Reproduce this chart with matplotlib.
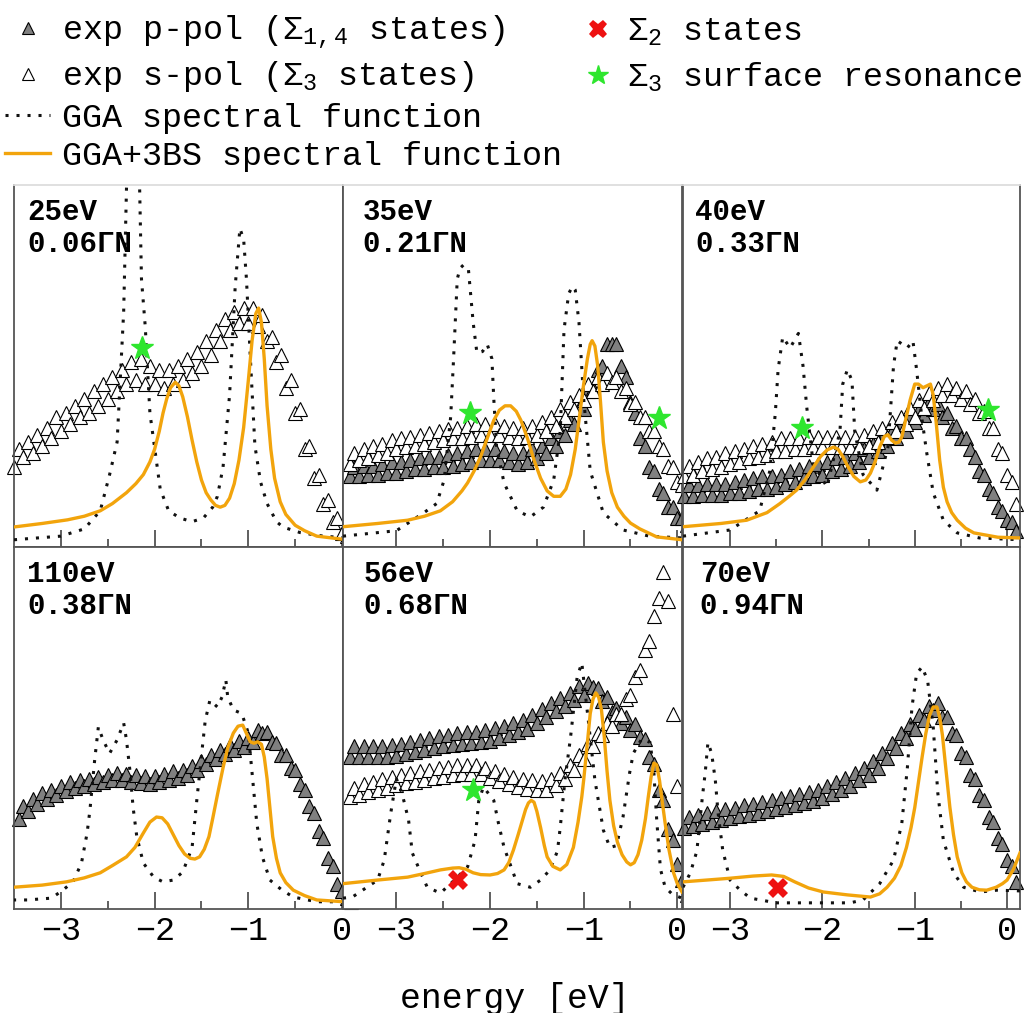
import numpy as np
import matplotlib
matplotlib.use("Agg")
import matplotlib.pyplot as plt
from matplotlib.lines import Line2D

plt.rcParams['font.family'] = ['Liberation Mono', 'DejaVu Sans']
plt.rcParams['mathtext.fontset'] = 'custom'
plt.rcParams['mathtext.rm'] = 'Liberation Mono'
plt.rcParams['mathtext.it'] = 'Liberation Mono'
plt.rcParams['mathtext.bf'] = 'Liberation Mono:bold'

# ---------------- data ----------------
photon_energy = ["25eV", "35eV", "40eV", "110eV", "56eV", "70eV"]
k_position = ["0.06ΓN", "0.21ΓN", "0.33ΓN", "0.38ΓN", "0.68ΓN", "0.94ΓN"]
tick_values = [-3, -2, -1, 0]
tick_labels = ["\u22123", "\u22122", "\u22121", "0"]

# experimental grid (eV), -3.50 ... 0.10 in 0.05 steps
exp_energy = np.linspace(-3.5, 0.1, 73)

nan = np.nan
# s-pol (open triangles), p-pol (grey triangles): intensity in % of panel height
s_25 = [22,27,25,29,26,31,28,33,30,36, 32,37,34,39,36,41,37,43,39,45,
        41,47,43,49,45,51,46,52,45,50, 45,49,44,49,45,50,46,52,48,54,
        50,57,53,60,57,63,60,65,62,66, 62,66,61,64,57,58,51,53,44,46,
        37,38,27,28,19,20,12,13,7,8, 4,3,2]
s_35 = [23,26,24,27,24.5,28,25.5,28.5,26,29.5, 27,30,27.5,30.5,28,31,28.5,31.5,29,32,
        29.5,32.5,30,33,30,33.5,30.5,34,31,34, 31,34,31,33.5,30.5,33,30,33,30.5,33.5,
        31,34.5,32,36,33.5,38,36,40,38,42, 40.5,45,43,47,45,48,45.5,47,43,44,
        39.5,40,36,36,32,32,28,27,22.5,22, 18,17,14]
p_35 = [19.5,22,19.5,22.5,20,22.5,20,23,20.5,23.5, 20.5,23.5,21,24,21.5,24.5,21.5,25,22,25,
        22,25.5,22.5,26,23,26.5,23.5,27,24,27, 24,27,24,26.5,23.5,26,23,26,23.5,27,
        24.5,28,26,30,28,32,31,35,34,38.5, 38,43,44,49,50,56,56,56,50,47,
        40,37,30,28,22,21,16,15,11,11, 8,8,6]
s_40 = [19.5,22.5,20,23.5,21,24.5,21.5,25,22,26, 23,26.5,23.5,27,24.5,28,25,28.5,25.5,29,
        26.5,30,26.5,30,27,30,27,30.5,27.5,30.5, 27.5,30.5,27.5,30.5,27.5,30.5,27.5,30.5,27.5,31,
        28,32,29,33,30.5,34.5,32,36,34,38.5, 36,40.5,38.5,42.5,40.5,44,42,45,42,44,
        41,43,39.5,41,37,37.5,33,33,27,26, 20,18,12]
p_40 = [14,17,14,17,14.5,17.5,14.5,17.5,14.5,17.5, 15,18,15,18.5,15.5,19,16,19.5,16,19.5,
        16.5,20,17.5,21,18,21.5,19,22.5,19.5,23, 20,23.5,21,24.5,21.5,25,22.5,26,23.5,27,
        25,28.5,26.5,30,28,32,30,34,32,36, 34.5,38,36.5,40,38,39.5,36,37,33,33.5,
        30,30,27,25,21,20,16,15,11,10, 7.5,7,4.5]
p_110 = [nan,25,28.5,27,30.5,29,32,30.5,33,31.5, 34,32.5,35,33.5,35.5,34,36,34.5,36.5,35,
         37,35.5,37.5,35.5,37.3,35,37,34.7,36.7,34.5, 36.8,35,37.3,35.5,38,36.3,38.5,37,39.5,38.5,
         41,40,42.5,41.5,44,42.7,45.3,43.8,46.3,44.8, 47.3,46,49.5,48.5,49,46,45.8,42.5,42.5,39,
         38.5,34.5,33,28.5,26.5,21.5,19.5,14,12,7, 5,3,2]
p_56 = [42,45,42,45,42,45,42,45,42,45.2, 42.3,45.6,42.8,46,43.3,46.7,43.9,47.2,44.5,47.8,
        45,48.2,45.3,48.5,45.6,48.8,45.9,49,46.2,49.4, 46.5,50,47.2,50.6,48,51.4,48.8,52.3,49.8,53.5,
        51.3,55.2,53,56.8,54.6,58.3,56,59.8,57.7,61.5, 59.2,62.5,61.3,61,57.5,58.5,54.5,55.5,51.5,53,
        49.5,51,47.5,47,42,40,33,30,22,19, 12.5,8,4]
s_56 = [31,33.5,31.5,34.5,32.2,35,32.8,35.8,33.5,36.5, 34.2,37,34.7,37.5,35.2,38,35.7,38.5,36.2,38.9,
        36.6,39.3,37,39.7,37.3,39.9,37.4,39.8,37.2,39, 36.2,38.2,35.3,37.3,34.4,36.5,33.8,35.9,33.2,35.5,
        32.8,35.3,33,36,34.2,37.5,36,39.8,38.5,42.5, 41.5,45.5,45,48.5,48,51.5,50.5,54,54,58,
        59,64,66,71.5,74,81,86,93,85,54, 34,nan,nan]
p_70 = [22.5,25.5,23,26,23.6,26.6,24.1,27,24.6,27.6, 25.1,28,25.6,28.6,26.1,29.1,26.6,29.6,27.2,30.2,
        27.7,30.7,28.2,31.2,28.8,31.8,29.3,32.3,29.8,33, 30.8,34,31.8,35,32.8,36.1,34,37.5,35.5,39,
        37.1,40.8,39,43,41.6,45.8,44.5,48.5,47.1,51, 49.6,53.5,52.1,56,55,57,53,53,48.5,48,
        43,42,37,36,31.5,30,25.5,24,19.5,18, 13.5,12,7.5]

# GGA spectral function (dotted)
gga_e_25 = [-3.50,-3.0,-2.75,-2.58,-2.48,-2.40,-2.33,-2.30,-2.26,-2.22,-2.18,-2.14,-2.10,-2.05,-1.94,-1.85,-1.73,
            -1.60,-1.48,-1.38,-1.33,-1.27,-1.20,-1.14,-1.09,-1.05,-1.02,-0.98,-0.93,-0.87,-0.80,-0.70,-0.63,-0.45,-0.2,0.05]
gga_y_25 = [2,3,5,10,20,29,65,99,125,135,125,74,61,37,16,10,8,7,8,11,14,22,42,72,88,85,74,53,28,18,12,7,5.5,4,3,2.5]
gga_e_35 = [-3.57,-3.0,-2.71,-2.57,-2.49,-2.42,-2.39,-2.35,-2.32,-2.28,-2.23,-2.18,-2.14,-2.08,-2.03,-1.98,-1.96,-1.93,
            -1.85,-1.71,-1.57,-1.43,-1.32,-1.25,-1.21,-1.16,-1.12,-1.09,-1.05,-1.00,-0.93,-0.79,-0.58,-0.3,0.05]
gga_y_35 = [3,4.5,9.4,12,18.5,36,51.6,74,77,78,76.5,62,53.6,54,56,52,41,27.6,17.7,10,8.3,11,18.5,32,60,70,72,71,62,41,21,9.4,4.7,3,2.5]
gga_e_40 = [-3.51,-3.0,-2.68,-2.57,-2.51,-2.48,-2.43,-2.35,-2.26,-2.21,-2.17,-2.10,-1.95,-1.81,-1.78,-1.73,-1.68,-1.65,
            -1.56,-1.41,-1.29,-1.23,-1.19,-1.08,-1.02,-0.98,-0.92,-0.87,-0.80,-0.69,-0.54,-0.3,0.14]
gga_y_40 = [3,4.7,10,21,37,49,58,55,59,50,38.7,23,16.6,32,45,49,46,32,20,15.7,27.6,50,57,55,57,49,35,26,15,7.4,3.9,2.5,2]
gga_e_110 = [-3.51,-3.36,-3.10,-2.98,-2.87,-2.78,-2.72,-2.69,-2.64,-2.60,-2.55,-2.48,-2.40,-2.33,-2.30,-2.26,-2.23,-2.19,
             -2.12,-2.01,-1.91,-1.80,-1.70,-1.60,-1.55,-1.49,-1.46,-1.41,-1.33,-1.28,-1.24,-1.22,-1.16,-1.07,-1.00,-0.95,
             -0.91,-0.85,-0.77,-0.64,-0.52,-0.27,0.01]
gga_y_110 = [2.5,2.5,3,5.2,7.5,12.7,21,27.3,41,50.3,46.7,43,46.7,51.4,46.7,37.5,28.2,20,12.7,8.8,7.5,8,10.2,17,30,
             44.8,52,57.7,55.8,58.6,63.3,58.6,55,54,48.6,34.8,23.7,14.4,8,5.2,3.3,2,2]
gga_e_56 = [-3.57,-3.47,-3.20,-3.13,-3.06,-3.00,-2.94,-2.87,-2.83,-2.74,-2.67,-2.53,-2.42,-2.24,-2.16,-2.12,-2.07,-1.96,
            -1.91,-1.85,-1.71,-1.57,-1.46,-1.36,-1.28,-1.25,-1.20,-1.14,-1.07,-1.02,-0.95,-0.88,-0.79,-0.72,-0.65,-0.58,
            -0.51,-0.47,-0.38,-0.29,-0.25,-0.22,-0.18,-0.13,-0.05,0.05]
gga_y_56 = [3,3.3,8,13.5,26.5,36,32,24.6,15.5,10,6,4.4,7,11.6,19,30,33.7,30,23.7,17,7,6,8,10.8,16,22.6,35.6,47.5,
            64,68,52,35.6,21.8,17,17.5,25.4,37.5,43,47,46,37.5,24.6,11,6,4,3]
gga_e_70 = [-3.51,-3.43,-3.36,-3.30,-3.27,-3.24,-3.20,-3.16,-3.13,-3.08,-3.00,-2.89,-2.78,-2.5,-1.7,-1.56,-1.38,-1.23,
            -1.14,-1.08,-1.03,-0.98,-0.92,-0.86,-0.80,-0.75,-0.69,-0.58,-0.47,-0.29,-0.11,0.14]
gga_y_70 = [6,10,16,31,37.5,46,43,35.6,26.5,16.3,8,5.2,3,1.7,1.7,2.5,7,13.5,23.7,39,55.8,65,66.9,63,50.3,32,19,10,6,4.7,5.2,5]

# GGA+3BS spectral function (orange)
bs_e_25 = [-3.51,-3.2,-2.93,-2.75,-2.58,-2.45,-2.30,-2.20,-2.12,-2.05,-2.00,-1.95,-1.91,-1.87,-1.83,-1.78,-1.74,-1.70,
           -1.65,-1.60,-1.55,-1.50,-1.45,-1.40,-1.35,-1.30,-1.25,-1.20,-1.15,-1.10,-1.05,-1.00,-0.96,-0.92,-0.89,-0.86,
           -0.83,-0.80,-0.76,-0.72,-0.66,-0.60,-0.50,-0.40,-0.27,0.05]
bs_y_25 = [5.5,6.5,7.5,8.5,10,12,15,17.5,20,23.5,27,32,37,41,44,45.5,44.5,41.5,36,29.5,23.5,18.5,15,13,11.5,11,11.5,
           13.5,17.5,24,33,46,57,64.5,66,62,52,39,27,19,12.5,9,6,4.5,3,2]
bs_e_35 = [-3.57,-3.2,-2.88,-2.7,-2.53,-2.40,-2.30,-2.24,-2.17,-2.10,-2.03,-1.96,-1.90,-1.84,-1.78,-1.72,-1.67,-1.60,
           -1.53,-1.46,-1.39,-1.32,-1.25,-1.19,-1.14,-1.09,-1.04,-1.00,-0.96,-0.93,-0.91,-0.88,-0.85,-0.82,-0.79,-0.75,
           -0.70,-0.64,-0.57,-0.50,-0.40,-0.22,0.05]
bs_y_35 = [5.6,6.5,7.4,8.5,10,12.5,15.5,17.7,21,25,30,35,37.8,39,39,37.5,35,30,24,19,15.5,14,14,16,20,27,37,45,52,56,
           57,55.5,50,40,29,21,15,11,8.5,6.6,5,2.8,2]
bs_e_40 = [-3.51,-3.1,-2.82,-2.60,-2.46,-2.36,-2.28,-2.19,-2.10,-2.02,-1.95,-1.88,-1.83,-1.78,-1.73,-1.66,-1.59,-1.53,
           -1.48,-1.43,-1.38,-1.33,-1.29,-1.25,-1.21,-1.17,-1.14,-1.10,-1.05,-1.00,-0.96,-0.91,-0.87,-0.83,-0.80,-0.77,
           -0.73,-0.69,-0.65,-0.60,-0.54,-0.45,-0.36,-0.1,0.14]
bs_y_40 = [5.6,6.5,7.4,9.5,12,14,15.7,18.5,22,25,26.8,27.6,27,25,22.5,19.5,18,18.5,20.4,23.5,27.6,30.5,31,29.5,28.7,
           29,30.4,35,40.6,45,45,44,44.5,45,42,35,24,16.5,12.5,9.5,7.4,5.2,3.9,2.7,2.5]
bs_e_110 = [-3.51,-3.2,-2.94,-2.75,-2.58,-2.45,-2.30,-2.21,-2.12,-2.05,-1.98,-1.92,-1.86,-1.80,-1.74,-1.68,-1.62,-1.57,
            -1.52,-1.47,-1.42,-1.38,-1.33,-1.27,-1.22,-1.16,-1.11,-1.06,-1.02,-0.98,-0.94,-0.90,-0.86,-0.83,-0.80,-0.77,
            -0.74,-0.70,-0.66,-0.60,-0.52,-0.40,-0.27,0.02]
bs_y_110 = [6,6.6,7.5,8.6,10,12,14.4,17,21,24,25.4,25.2,23.5,20.5,17.5,15.2,14,13.8,14.4,16.5,20,25,31.5,39,44.5,
            48.6,50.5,50.8,48.5,46.2,45.8,46.2,45.5,42,36,28,20,14,10,7.3,5.2,3.7,2.5,2]
bs_e_56 = [-3.57,-3.2,-2.88,-2.70,-2.53,-2.40,-2.33,-2.26,-2.18,-2.10,-2.00,-1.92,-1.85,-1.80,-1.75,-1.70,-1.66,-1.62,
           -1.59,-1.56,-1.53,-1.50,-1.46,-1.42,-1.39,-1.33,-1.25,-1.18,-1.11,-1.06,-1.02,-1.00,-0.96,-0.93,-0.90,-0.87,
           -0.84,-0.81,-0.78,-0.75,-0.72,-0.68,-0.64,-0.59,-0.54,-0.50,-0.46,-0.42,-0.38,-0.34,-0.31,-0.28,-0.25,-0.22,
           -0.19,-0.16,-0.13,-0.09,-0.04,0.0,0.05]
bs_y_56 = [7,8,8.8,9.8,10.8,11.3,11.4,11,10,9.5,9.4,9.8,10.8,12.8,16.3,20.5,24,27.5,29.3,30,29.5,27,22.5,17.5,14.4,
           11.8,10.8,12.3,17,24,31,35.6,46,54,58,59.7,58.5,55,47.5,38,30,23,18.5,15,13,12.2,12.8,15,19,25,31,36.5,
           40.3,39.8,35.5,29.5,23.7,16.5,10,7,4.7]
bs_e_70 = [-3.51,-3.2,-3.0,-2.75,-2.55,-2.42,-2.30,-2.15,-1.99,-1.73,-1.48,-1.38,-1.30,-1.22,-1.15,-1.09,-1.04,-1.00,
           -0.96,-0.92,-0.88,-0.84,-0.80,-0.76,-0.73,-0.70,-0.66,-0.62,-0.58,-0.54,-0.49,-0.44,-0.38,-0.30,-0.22,-0.12,
           -0.05,0.0,0.07,0.14]
bs_y_70 = [7.5,8.1,8.5,9.1,9.4,9.0,7.5,5.8,4.7,3.9,3.3,4.2,6,8.5,12,17,22.5,28,35,42,48.5,53.5,55.8,55.8,53,48,38,
           28.2,20.5,14.4,10,7.5,6,5.3,5.2,6,7,8,11,15.5]

# special markers: (energy, intensity)
star_e = [[-2.13], [-2.21, -0.20], [-2.22, -0.21], [], [-2.18], []]
star_y = [[55], [37, 35.6], [33, 37.8], [], [32.9], []]
cross_e = [[], [], [], [], [-2.34], [-2.48]]
cross_y = [[], [], [], [], [8], [5.8]]

s_series = [s_25, s_35, s_40, None, s_56, None]
p_series = [None, p_35, p_40, p_110, p_56, p_70]
gga_e = [gga_e_25, gga_e_35, gga_e_40, gga_e_110, gga_e_56, gga_e_70]
gga_y = [gga_y_25, gga_y_35, gga_y_40, gga_y_110, gga_y_56, gga_y_70]
bs_e = [bs_e_25, bs_e_35, bs_e_40, bs_e_110, bs_e_56, bs_e_70]
bs_y = [bs_y_25, bs_y_35, bs_y_40, bs_y_110, bs_y_56, bs_y_70]

# ---------------- styles / layout ----------------
W, H = 1026, 1013
fig = plt.figure(figsize=(W / 100, H / 100), dpi=100)

col_px = [(14, 343), (343, 682), (683, 1020)]
col_xlim = [(-3.50, 0.01), (-3.57, 0.05), (-3.51, 0.14)]
row_px = [(185, 547), (547, 909)]
label_dx = [0.04, 0.057, 0.036, 0.04, 0.06, 0.05]

ORANGE = '#F2A40C'
GREY = '#808080'
GREEN = '#2EE62E'
RED = '#EE1111'
SPINE = '#555555'
DOTS = (0, (1, 2.6))

for i in range(6):
    r, c = divmod(i, 3)
    x0, x1 = col_px[c]
    y0, y1 = row_px[r]
    ax = fig.add_axes([x0 / W, 1 - y1 / H, (x1 - x0) / W, (y1 - y0) / H])
    ax.set_xlim(*col_xlim[c])
    ax.set_ylim(0, 100)

    if p_series[i] is not None:
        ax.plot(exp_energy, p_series[i], linestyle='none', marker='^', markersize=9.8,
                markerfacecolor=GREY, markeredgecolor='black', markeredgewidth=0.8,
                zorder=2, clip_on=False)
    if s_series[i] is not None:
        ax.plot(exp_energy, s_series[i], linestyle='none', marker='^', markersize=9.8,
                markerfacecolor='white', markeredgecolor='black', markeredgewidth=0.8,
                zorder=2.1, clip_on=False)

    ax.plot(gga_e[i], gga_y[i], color='#111111', linewidth=2.2, linestyle=DOTS, zorder=3)
    ax.plot(bs_e[i], bs_y[i], color=ORANGE, linewidth=2.4, zorder=4,
            solid_joinstyle='round')

    if star_e[i]:
        ax.plot(star_e[i], star_y[i], linestyle='none', marker='*', markersize=17,
                color=GREEN, zorder=5)
    if cross_e[i]:
        ax.plot(cross_e[i], cross_y[i], linestyle='none', marker='X', markersize=14,
                color=RED, markeredgewidth=0, zorder=5)

    ax.text(label_dx[i], 0.925, photon_energy[i], transform=ax.transAxes, fontsize=21,
            fontweight='bold', ha='left', va='center', zorder=6)
    ax.text(label_dx[i], 0.837, k_position[i], transform=ax.transAxes, fontsize=21,
            fontweight='bold', ha='left', va='center', zorder=6)

    ax.set_yticks([])
    ax.set_xticks(tick_values)
    ax.set_xticks([-2.5, -1.5, -0.5], minor=True)
    if r == 1:
        ax.set_xticklabels(tick_labels)
    else:
        ax.set_xticklabels([])
    ax.tick_params(axis='x', which='major', direction='in', length=12, width=1.2,
                   color='#444444', labelsize=24, pad=5)
    ax.tick_params(axis='x', which='minor', direction='in', length=6, width=1.2,
                   color='#444444')
    for side, sp in ax.spines.items():
        sp.set_color(SPINE)
        sp.set_linewidth(1.3)
    if r == 0:
        ax.spines['top'].set_color('#dddddd')

fig.text(0.502, 1 - 998 / H, 'energy [eV]', ha='center', va='center', fontsize=25)

# ---------------- legends (one row each for exact placement) ----------------
legend_rows = [
    (Line2D([], [], linestyle='none', marker='^', markersize=8, markerfacecolor=GREY,
            markeredgecolor='black', markeredgewidth=0.8),
     r'exp p-pol ($\Sigma_{1,4}$ states)', 5, 32, 1.35, 0.36),
    (Line2D([], [], linestyle='none', marker='^', markersize=8, markerfacecolor='white',
            markeredgecolor='black', markeredgewidth=0.8),
     r'exp s-pol ($\Sigma_{3}$ states)', 5, 77, 1.35, 0.36),
    (Line2D([], [], color='#111111', linewidth=2.2, linestyle=DOTS),
     'GGA spectral function', 5, 118, 1.35, 0.36),
    (Line2D([], [], color=ORANGE, linewidth=2.4),
     'GGA+3BS spectral function', 5, 156, 1.35, 0.36),
    (Line2D([], [], linestyle='none', marker='X', markersize=13, color=RED, markeredgewidth=0),
     r'$\Sigma_{2}$ states', 585, 32, 0.8, 0.45),
    (Line2D([], [], linestyle='none', marker='*', markersize=15, color=GREEN),
     r'$\Sigma_{3}$ surface resonance', 585, 77, 0.8, 0.45),
]
for handle, label, px, py, hl, hp in legend_rows:
    fig.legend([handle], [label], loc='center left', bbox_to_anchor=(px / W, 1 - py / H),
               frameon=False, fontsize=24, handlelength=hl, handletextpad=hp,
               borderpad=0, borderaxespad=0)

fig.savefig('out.png', dpi=100)
